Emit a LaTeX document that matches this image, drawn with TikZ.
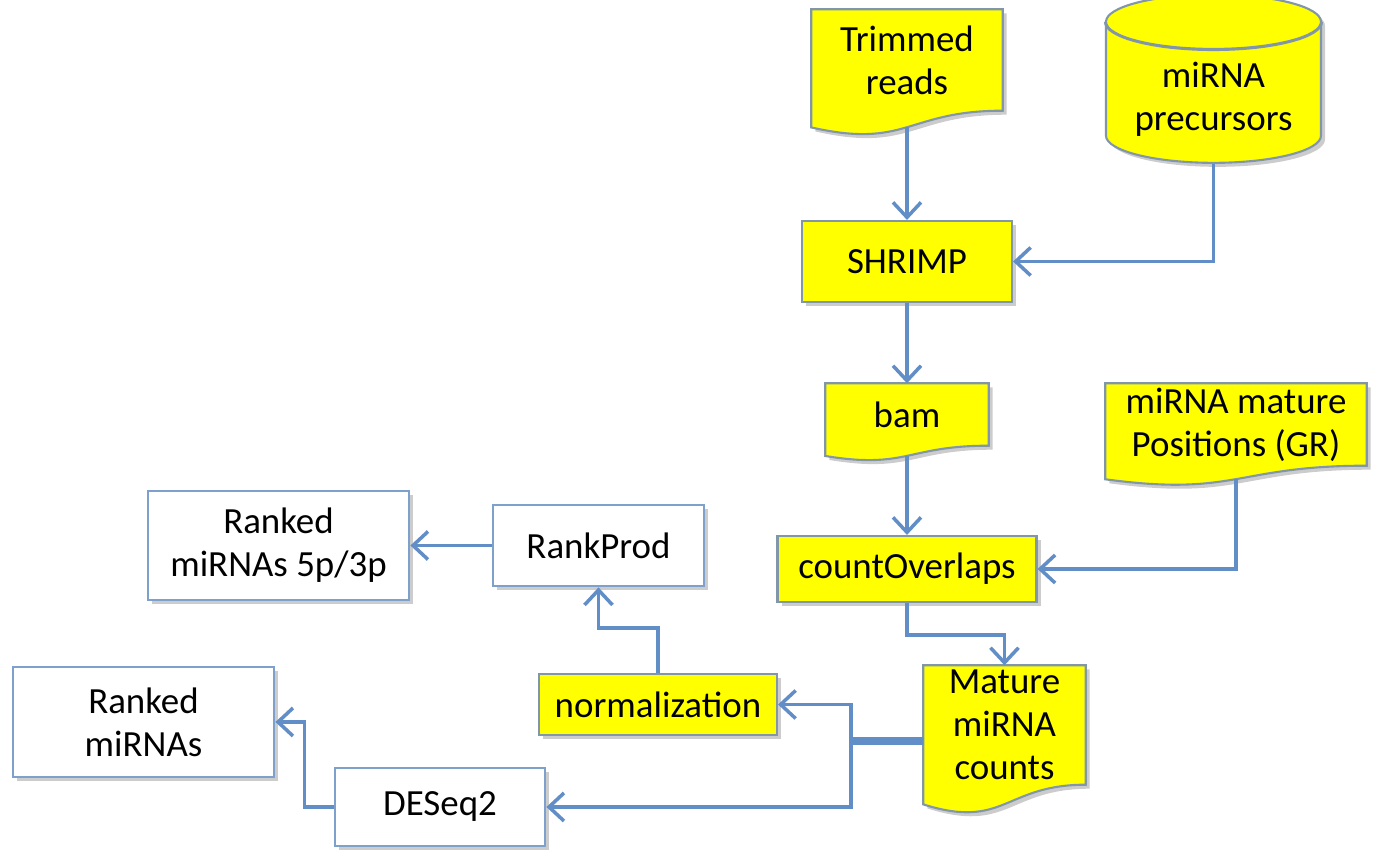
\documentclass[tikz,border=0pt]{standalone}
\usepackage{fontspec}
\setmainfont{Carlito}
\usetikzlibrary{positioning,shapes.geometric,arrows.meta,calc,backgrounds,shadows}

\definecolor{flowblue}{RGB}{98,142,200}
\definecolor{boxblue}{RGB}{125,160,205}
\definecolor{edgegray}{RGB}{130,150,170}
\definecolor{docyellow}{RGB}{255,255,0}

\tikzset{
  every node/.style={font=\fontsize{10.5}{12.3}\selectfont, align=center},
  softshadow/.style={drop shadow={shadow xshift=0.4mm, shadow yshift=-0.4mm, opacity=0.2, fill=black}},
  procbox/.style={rectangle, draw=edgegray, fill=docyellow, line width=0.6pt, softshadow},
  resultbox/.style={rectangle, draw=boxblue, fill=white, line width=0.8pt, softshadow},
  docbox/.style={rectangle, inner sep=0pt},
  docfill/.style={draw=edgegray, fill=docyellow, line width=0.6pt, softshadow},
  dbbox/.style={cylinder, shape border rotate=90, aspect=0.3, draw=edgegray, line width=0.6pt,
    fill=docyellow, softshadow},
  flowline/.style={draw=flowblue, line width=1pt},
  flow/.style={flowline, -{Straight Barb[length=1.5mm,width=2.8mm]}},
}

% document shape with wavy bottom edge, drawn behind the node text
\newcommand{\docshape}[1]{%
  \path[docfill] let \p1=(#1.north west), \p2=(#1.south east), \n1={\y1-\y2} in
    (\x1,\y1) -- (\x2,\y1) -- (\x2,\y2)
    .. controls ({(\x1+\x2)/2},\y2) and ({(\x1+\x2)/2},{\y2-0.38*\n1}) .. (\x1,{\y2-0.165*\n1})
    -- cycle;
  \path let \p1=(#1.north west), \p2=(#1.south east), \n1={\y1-\y2} in
    coordinate (#1-bot) at ({(\x1+\x2)/2},{\y2-0.163*\n1});
}

\begin{document}
\begin{tikzpicture}
  \useasboundingbox (0,0) rectangle (13.93,8.51);

  % inputs
  \node[docbox, minimum width=1.90cm, minimum height=1.00cm] (trimmed) at (9.07,7.91) {Trimmed\\reads};
  \node[dbbox, minimum width=2.15cm, minimum height=1.45cm] (precursors) at (12.135,7.52) {miRNA\\precursors};
  % front rim of the cylinder top
  \draw[edgegray, line width=0.6pt] let \p1=(precursors.before top), \p2=(precursors.after top),
    \p3=(precursors.top), \n1={abs(\x2-\x1)/2}, \n2={\y3-\y1} in
    ({min(\x1,\x2)},\y1) arc[start angle=180, end angle=360, x radius=\n1, y radius=\n2];

  % alignment and counting
  \node[procbox, minimum width=2.10cm, minimum height=0.81cm] (shrimp) at (9.07,5.895) {SHRIMP};
  \node[docbox, minimum width=1.62cm, minimum height=0.61cm] (bam) at (9.07,4.365) {bam};
  \node[docbox, minimum width=2.60cm, minimum height=0.81cm] (positions) at (12.36,4.265) {miRNA mature\\Positions (GR)};
  \node[procbox, minimum width=2.59cm, minimum height=0.66cm] (count) at (9.07,2.82) {countOverlaps};
  \node[docbox, minimum width=1.61cm, minimum height=1.18cm] (mature) at (10.045,1.26) {Mature\\miRNA\\counts};

  % analysis
  \node[procbox, minimum width=2.38cm, minimum height=0.61cm] (norm) at (6.58,1.465) {normalization};
  \node[resultbox, minimum width=2.11cm, minimum height=0.81cm] (rankprod) at (5.985,3.055) {RankProd};
  \node[resultbox, minimum width=2.61cm, minimum height=1.09cm] (ranked53) at (2.785,3.055) {Ranked\\miRNAs 5p/3p};
  \node[resultbox, minimum width=2.61cm, minimum height=1.10cm] (rankedmi) at (1.435,1.29) {Ranked\\miRNAs};
  \node[resultbox, minimum width=2.10cm, minimum height=0.78cm] (deseq) at (4.40,0.44) {DESeq2};

  \begin{scope}[on background layer]
    \docshape{trimmed}
    \docshape{bam}
    \docshape{positions}
    \docshape{mature}
  \end{scope}

  % connectors
  \draw[flow] (trimmed-bot) -- (shrimp.north);
  \draw[flow] (precursors.south) |- (shrimp.east);
  \draw[flow] (shrimp.south) -- (bam.north);
  \draw[flow] (bam-bot) -- (count.north);
  \draw[flow] (positions-bot) |- (count.east);
  \draw[flow] (count.south) -- ++(0,-0.32) -| (mature.north);

  \coordinate (split) at (8.51,1.10);
  \draw[flowline, line width=2.2pt] ([yshift=-1.6mm]mature.west) -- (split);
  \draw[flow] (split) |- (norm.east);
  \draw[flow] (split) |- (deseq.east);
  \draw[flow] (norm.north) -- ++(0,0.45) -| (rankprod.south);
  \draw[flow] (rankprod.west) -- (ranked53.east);
  \draw[flow] (deseq.west) -- ++(-0.29,0) |- (rankedmi.east);

\end{tikzpicture}
\end{document}
